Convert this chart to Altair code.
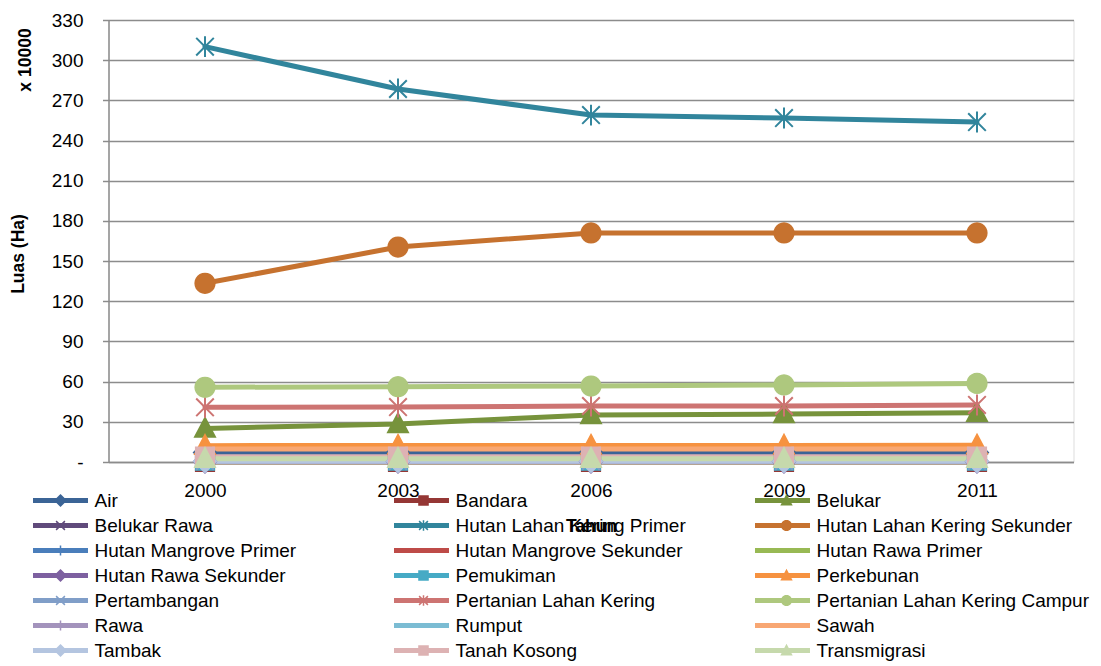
import math
import altair as alt
import pandas as pd

# ---------------- data ----------------
years = ["2000", "2003", "2006", "2009", "2011"]

series = [
    "Air", "Bandara", "Belukar", "Belukar Rawa", "Hutan Lahan Kering Primer",
    "Hutan Lahan Kering Sekunder", "Hutan Mangrove Primer", "Hutan Mangrove Sekunder",
    "Hutan Rawa Primer", "Hutan Rawa Sekunder", "Pemukiman", "Perkebunan",
    "Pertambangan", "Pertanian Lahan Kering", "Pertanian Lahan Kering Campur",
    "Rawa", "Rumput", "Sawah", "Tambak", "Tanah Kosong", "Transmigrasi",
]

air = [7.0, 7.0, 7.0, 7.0, 7.0]
bandara = [0.1, 0.1, 0.1, 0.1, 0.1]
belukar = [25.0, 28.4, 35.1, 35.8, 36.8]
belukar_rawa = [0.3, 0.3, 0.3, 0.3, 0.3]
hlk_primer = [310.1, 278.5, 259.0, 256.8, 253.8]
hlk_sekunder = [133.4, 160.5, 171.0, 171.0, 171.0]
hm_primer = [0.2, 0.2, 0.2, 0.2, 0.2]
hm_sekunder = [0.1, 0.1, 0.1, 0.1, 0.1]
hr_primer = [0.2, 0.2, 0.2, 0.2, 0.2]
hr_sekunder = [0.3, 0.3, 0.3, 0.3, 0.3]
pemukiman = [1.0, 1.0, 1.0, 1.0, 1.0]
perkebunan = [12.2, 12.3, 12.3, 12.4, 12.5]
pertambangan = [0.8, 0.8, 0.8, 0.8, 0.8]
plk = [40.8, 41.0, 41.8, 41.8, 42.6]
plk_campur = [55.8, 56.2, 56.7, 57.5, 58.7]
rawa = [0.5, 0.5, 0.5, 0.5, 0.5]
rumput = [1.5, 1.5, 1.5, 1.5, 1.5]
sawah = [9.7, 9.7, 9.7, 9.7, 9.7]
tambak = [0.6, 0.6, 0.6, 0.6, 0.6]
tanah_kosong = [4.0, 4.0, 4.0, 4.0, 4.0]
transmigrasi = [2.5, 2.5, 2.5, 2.5, 2.5]

all_values = [
    air, bandara, belukar, belukar_rawa, hlk_primer, hlk_sekunder, hm_primer,
    hm_sekunder, hr_primer, hr_sekunder, pemukiman, perkebunan, pertambangan,
    plk, plk_campur, rawa, rumput, sawah, tambak, tanah_kosong, transmigrasi,
]

y_ticks = [0, 30, 60, 90, 120, 150, 180, 210, 240, 270, 300, 330]

# ---------------- styles ----------------
colors = [
    "#3B6496", "#953735", "#77933C", "#604A7B", "#31859C", "#C6722F",
    "#4A7EBB", "#BE4B48", "#98B954", "#7D60A0", "#46AAC5", "#F69240",
    "#809EC8", "#CD7472", "#AEC87E", "#A393BC", "#7BBCD3", "#F8A773",
    "#B4C5E0", "#DDB2B3", "#C6D9AC",
]
markers = [
    "diamond", "square", "triangle", "x", "asterisk", "circle",
    "plus", "none", "none", "diamond", "square", "triangle",
    "x", "asterisk", "circle", "plus", "none", "none",
    "diamond", "square", "triangle",
]

BOUND = "M-1,0M1,0"  # invisible moves: keep symbol bounds equal to the legend line


def circle_path(r, n=24):
    pts = []
    for i in range(n):
        a = 2 * math.pi * i / n
        pts.append(f"{r * math.cos(a):.4f},{r * math.sin(a):.4f}")
    return "M" + "L".join(pts) + "Z"


shape_paths = {
    "circle": BOUND + circle_path(0.175),
    "square": BOUND + "M-0.165,-0.165L0.165,-0.165L0.165,0.165L-0.165,0.165Z",
    "diamond": BOUND + "M0,-0.2L0.2,0L0,0.2L-0.2,0Z",
    "triangle": BOUND + "M0,-0.19L0.18,0.15L-0.18,0.15Z",
    "x": BOUND + "M-0.16,-0.16L0.16,0.16M-0.16,0.16L0.16,-0.16",
    "asterisk": BOUND + "M-0.16,-0.16L0.16,0.16M-0.16,0.16L0.16,-0.16M0,-0.19L0,0.19",
    "plus": BOUND + "M0,-0.18L0,0.18M-0.18,0L0.18,0",
    "none": BOUND,
}
shape_range = [shape_paths[m] for m in markers]

rows = []
for s, vals in zip(series, all_values):
    for yr, v in zip(years, vals):
        rows.append({"Series": s, "Series2": s, "Tahun": yr, "Nilai": v})
df = pd.DataFrame(rows)

FONT = "Liberation Sans"
W, H = 965, 442

x_enc = alt.X(
    "Tahun:O",
    sort=years,
    scale=alt.Scale(type="point", padding=0.5),
    axis=alt.Axis(
        title="Tahun", titleFont=FONT, titleFontSize=17.5, titleFontWeight="bold",
        titleColor="black", titleY=55, titleBaseline="top",
        labelFont=FONT, labelFontSize=19, labelColor="black", labelAngle=0,
        labelPadding=19, ticks=False, tickSize=0,
        domainColor="#8C8C8C", domainWidth=1.5, grid=False,
    ),
)
y_enc = alt.Y(
    "Nilai:Q",
    scale=alt.Scale(domain=[0, 330], nice=False, zero=True),
    axis=alt.Axis(
        values=y_ticks,
        title="Luas (Ha)", titleFont=FONT, titleFontSize=17.5, titleFontWeight="bold",
        titleColor="black", titleX=-90, titleY=233.5, titleAngle=270,
        titleAlign="center", titleBaseline="middle",
        labelFont=FONT, labelFontSize=19, labelColor="black",
        labelExpr="datum.value == 0 ? '-\u00a0\u00a0' : datum.label",
        labelPadding=19.5, tickSize=6, tickColor="#8C8C8C", tickWidth=1.5,
        domainColor="#8C8C8C", domainWidth=1.5,
        grid=True, gridColor="#8C8C8C", gridWidth=1.5,
    ),
)

legend_common = dict(
    title=None, orient="none", direction="horizontal", legendX=-78, legendY=468,
    columns=3, symbolSize=3025, clipHeight=25, labelFont=FONT, labelFontSize=19,
    labelLimit=400, columnPadding=24, rowPadding=0, gridAlign="all", padding=0,
    symbolOpacity=1,
)

lines = alt.Chart(df).mark_line(strokeWidth=5, strokeCap="round", strokeJoin="round").encode(
    x=x_enc,
    y=y_enc,
    color=alt.Color(
        "Series:N",
        scale=alt.Scale(range=colors),
        legend=alt.Legend(
            symbolType="stroke", symbolStrokeWidth=5, labelColor="black", labelOffset=4,
            **legend_common,
        ),
    ),
    detail="Series:N",
)

legend2 = alt.Legend(
    symbolStrokeWidth=1.5, labelOpacity=0, labelOffset=7, symbolOffset=1.5,
    **legend_common,
)

points = alt.Chart(df).mark_point(size=12100, opacity=1, strokeWidth=2).encode(
    x=x_enc,
    y=y_enc,
    fill=alt.Fill("Series2:N", scale=alt.Scale(range=colors), legend=legend2),
    stroke=alt.Stroke("Series2:N", scale=alt.Scale(range=colors), legend=legend2),
    shape=alt.Shape("Series2:N", scale=alt.Scale(range=shape_range), legend=legend2),
)

unit_label = alt.Chart(pd.DataFrame({"t": ["x 10000"]})).mark_text(
    angle=270, font=FONT, fontSize=17.5, fontWeight="bold", color="black",
    align="center", baseline="middle",
).encode(text="t:N", x=alt.value(-83), y=alt.value(40))

chart = alt.layer(lines, points, unit_label).properties(
    width=W, height=H,
    autosize=alt.AutoSizeParams(type="none"),
    padding={"left": 100.5, "top": 12, "right": 19.5, "bottom": 200},
).configure_view(stroke=None).configure(background="white")

chart.save("out.html", embed_options={"renderer": "svg", "actions": False})
